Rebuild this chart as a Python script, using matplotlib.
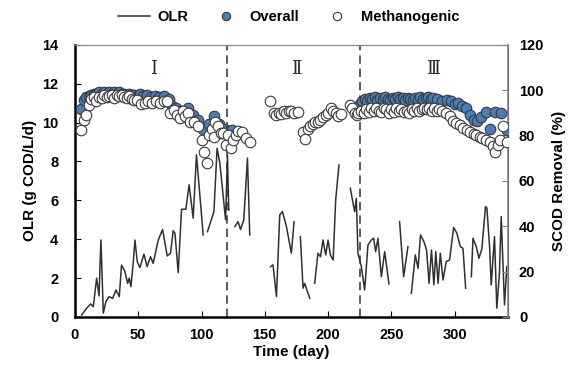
import numpy as np
import matplotlib.pyplot as plt
from matplotlib.lines import Line2D

plt.rcParams['font.family'] = ['Liberation Sans', 'DejaVu Sans']
plt.rcParams['font.weight'] = 'bold'

nan = np.nan

# OLR (g COD/L/d), nan marks breaks in the record
olr_day = [5.3, 9.2, 12.4, 14.5, 17.1, 19, 20.5, 22.4, 24.5, 27, 29.7, 32.4, 35, 36.8, 39.5,
           41.6, 42.9, 44.2, 46, 47.4, 49.2, 51.3, 54.5, 57, 59.7, 61.8, 65.8, 69.2, 72.9, 75.5,
           77.6, 79, 81.6, 84.2, 87.6, 90.2, 93.4, 96, 101.3, nan,
           104.7, 109.8, 112.3, 114.5, 119, 120.5, 121.5, nan,
           126.3, 128.9, 130.8, 133.4, 136.3, 138.1, nan,
           154.5, 156.5, 159.2, 161.8, 163.9, 167.1, 171, 173.1, nan,
           178.1, 180.2, 181.5, 185.5, nan,
           189.4, 192, 194, 196, 198.1, 200, 201.8, 204, 206, 208.6, nan,
           217.6, 219.7, 221, 222.3, 223.6, 225, 226.3, 228.9, 231.5, 234.2, 236, 237.6, 239.4,
           242.1, 244.7, 248.1, nan,
           256.5, 259.7, 263.1, nan,
           265.8, 268.9, 271.1, 273, 275.7, 277.8, 279.8, 281.7, 283.6, 285.1, 286.9, 288.7,
           290.8, 293.4, 296, 299.2, 301.8, 304.5, 306.6, 308.7, nan,
           313.2, 314.5, 317.1, 319.2, 321.5, 324.4, 325.5, 327.6, 328.9, 331.5, 333.3, 335.4,
           336.8, 339.4, 341.2]
olr = [0.1, 0.45, 0.67, 0.53, 2.0, 1.08, 3.96, 0.2, 0.8, 1.05, 0.95, 1.39, 1.05, 2.67, 2.33,
       1.73, 2.0, 1.56, 2.76, 3.96, 2.85, 2.54, 3.23, 2.59, 3.1, 2.76, 3.96, 4.5, 3.14, 3.28,
       4.44, 4.3, 2.28, 5.54, 5.54, 6.8, 5.08, 8.34, 4.22, nan,
       4.39, 5.42, 8.68, 7.9, 5.0, 8.3, 5.5, nan,
       4.65, 4.9, 4.5, 5.0, 8.17, 4.22, nan,
       2.59, 2.68, 1.05, 5.25, 5.42, 4.65, 3.28, 4.9, nan,
       4.13, 1.48, 1.73, 0.96, nan,
       1.73, 3.28, 3.1, 3.96, 3.19, 3.96, 3.19, 2.93, 6.02, 7.82, nan,
       6.62, 5.85, 5.42, 6.1, 3.28, 2.93, 2.59, 1.39, 3.7, 3.96, 4.05, 3.36, 4.05,
       2.07, 3.36, 1.7, nan,
       4.9, 2.07, 3.62, nan,
       1.22, 3.19, 2.5, 4.22, 3.88, 3.45, 1.73, 3.45, 1.65, 3.36, 1.73, 3.28,
       1.9, 2.85, 2.93, 4.61, 4.3, 3.62, 3.53, 1.48, nan,
       2.07, 4.05, 3.62, 3.02, 3.5, 5.68, 5.6, 3.62, 1.65, 4.13, 0.45, 2.25,
       5.16, 0.62, 2.59]

# Overall SCOD removal (%)
overall_day = [5, 7, 9, 11, 13, 15, 17, 19, 21, 23, 25, 27, 29, 31, 33, 35, 37, 39, 41, 43,
               45, 47, 49, 51, 54, 57, 60, 63, 66, 70, 74, 77, 80, 84, 89, 93, 97, 101, 106,
               110, 114, 118, 122, 124,
               225, 227, 229, 231, 233, 235, 237, 239, 241, 243, 245, 247, 249, 251, 253, 255,
               257, 259, 261, 263, 265, 267, 269, 271, 273, 275, 277, 279, 281, 283, 286, 290,
               294, 297, 300, 303, 306, 309, 312, 315, 318, 321, 325, 328, 332, 337, 341]
overall = [91.5, 95.5, 97, 97.5, 98, 98.5, 98.5, 99, 98.5, 99, 98.5, 99, 98.5, 99, 98.5, 99,
           98.5, 98.5, 98, 98.5, 98, 98, 97.5, 98.5, 97.5, 98, 97, 97.5, 97, 97.5, 96, 93, 92,
           91, 92, 89, 87, 83, 85, 88.5, 85, 83, 82, 82.5,
           94, 95, 96, 95, 96.5, 96, 97, 95.5, 96.5, 96, 97, 96, 95.5, 96.5, 96, 97,
           96, 96.5, 95.5, 96.5, 96, 95.5, 96.5, 96, 97, 96, 96.5, 97, 96, 96.5, 96, 95,
           95.5, 95, 94, 94.5, 93, 92, 89, 87, 86.5, 88, 90.5, 83, 90.5, 90, 82.5]

# Methanogenic SCOD removal (%)
meth_day = [5, 7, 9, 11, 13, 15, 17, 19, 21, 23, 25, 27, 29, 31, 33, 35, 37, 39, 41, 43, 45,
            47, 49, 52, 55, 58, 61, 64, 67, 70, 73, 75, 78, 81, 83, 85, 87, 89, 91, 94, 97,
            100, 102, 104, 106, 108, 110, 111, 113, 115, 117, 119, 121, 123, 125, 127, 129,
            132, 135, 138,
            154, 157, 159, 161, 163, 165, 167, 169, 171, 173, 176, 180, 182, 184, 186, 188,
            190, 192, 194, 196, 198, 200, 202, 204, 206, 208, 210, 217, 219, 221, 223,
            224, 226, 228, 230, 232, 234, 236, 238, 240, 242, 244, 246, 248, 250, 252, 254,
            256, 258, 260, 262, 264, 266, 268, 270, 272, 274, 276, 278, 280, 282, 284, 286,
            288, 290, 293, 296, 299, 301, 304, 307, 310, 312, 315, 317, 320, 322, 325, 328,
            330, 332, 334, 336, 338, 341]
meth = [82.5, 87, 89, 93.5, 96, 97, 95, 97, 96.5, 98, 97, 97.5, 98, 96.5, 98, 97.5, 98, 97,
        96.5, 97.5, 96, 95.5, 95.5, 94, 94.5, 95, 94.5, 95, 94.5, 95, 95, 90, 91.3, 89, 87.5,
        91, 88.5, 90, 86, 86, 84, 78, 72.9, 68, 80, 83, 79.5, 86, 84, 81, 81, 76, 80, 74.5,
        78, 80, 82, 81.7, 79, 77.3,
        95, 90, 89, 90, 89.5, 91, 90, 91, 91, 90, 90.5, 81.7, 78.5, 83, 84, 85,
        86, 86, 87, 88, 89, 90, 92, 91, 90, 88.5, 89.5, 93.5, 92, 90, 89,
        90, 91, 90, 91.5, 90.5, 92, 91, 92, 91, 90.5, 92, 91.5, 90, 91.5, 90.5, 92,
        91, 91.5, 90.5, 91, 90, 91.5, 91, 92, 91, 91.5, 92, 91.5, 92, 91, 92, 91,
        91.5, 91, 90, 88.5, 86.5, 85.4, 84.5, 83.2, 82.5, 81.7, 80.8, 80.3, 79.5, 78.8, 78,
        77.3, 75.5, 72.9, 76, 78, 84, 77.3]

phase_bounds = [120, 225]
phase_names = ['Ⅰ', 'Ⅱ', 'Ⅲ']
phase_pos = [62, 175, 283]

fig = plt.figure(figsize=(5.83, 3.79), dpi=100)
ax = fig.add_axes([0.1286, 0.1636, 0.7424, 0.7184])
ax2 = ax.twinx()

ax.plot(olr_day, olr, color='#303030', lw=1.1, zorder=2)
for b in phase_bounds:
    ax.axvline(b, color='#404040', lw=1.2, ls=(0, (5, 3)), zorder=1)
for name, xp in zip(phase_names, phase_pos):
    ax.text(xp, 12.75, name, ha='center', va='center', fontsize=13,
            family=['DejaVu Serif', 'DejaVu Sans'], fontweight='normal', color='#2a2a2a')

ax2.scatter(overall_day, overall, s=58, c='#4a7ebb', edgecolors='#3a3a3a', linewidths=0.8, zorder=3)
ax2.scatter(meth_day, meth, s=58, c='white', edgecolors='#3a3a3a', linewidths=0.8, zorder=4)

ax.set_xlim(0, 342)
ax.set_ylim(0, 14)
ax2.set_ylim(0, 120)
ax.set_xticks(range(0, 301, 50))
ax.set_yticks(range(0, 15, 2))
ax2.set_yticks(range(0, 121, 20))

ax.tick_params(axis='both', direction='in', labelsize=10.5, length=4, pad=8)
ax.tick_params(axis='y', pad=12)
ax2.tick_params(axis='y', direction='in', labelsize=10.5, length=4, pad=8, color='#888888')
ax.spines['left'].set_linewidth(1.8)
ax.spines['bottom'].set_linewidth(1.8)
ax.spines['top'].set_color('#888888')
ax2.spines['right'].set_color('#888888')
ax2.spines['right'].set_linewidth(1.2)
ax2.spines['top'].set_color('#888888')
for sp in ['left', 'bottom']:
    ax2.spines[sp].set_visible(False)

ax.set_xlabel('Time (day)', fontsize=11, fontweight='bold', labelpad=2)
ax.set_ylabel('OLR (g COD/L/d)', fontsize=11, fontweight='bold', labelpad=4)
ax2.set_ylabel('SCOD Removal (%)', fontsize=11, fontweight='bold', labelpad=6)

handles = [Line2D([], [], color='#303030', lw=1.1),
           Line2D([], [], ls='', marker='o', ms=6, mfc='#4a7ebb', mec='#3a3a3a', mew=0.8),
           Line2D([], [], ls='', marker='o', ms=6, mfc='white', mec='#3a3a3a', mew=0.8)]
fig.legend(handles, ['OLR', 'Overall', 'Methanogenic'], loc='center', bbox_to_anchor=(0.495, 0.955),
           ncol=3, frameon=False, fontsize=10.5, handlelength=2.2, columnspacing=1.5, handletextpad=0.5)

plt.savefig('out.png', dpi=100)
